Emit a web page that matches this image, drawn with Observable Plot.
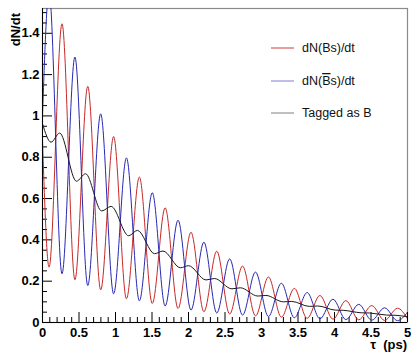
<!DOCTYPE html>
<html><head><meta charset="utf-8">
<script src="https://cdn.jsdelivr.net/npm/d3@7"></script>
<script src="https://cdn.jsdelivr.net/npm/@observablehq/plot@0.6"></script>
<style>
body{margin:0;background:#fff;}
#chart{width:412px;height:352px;}
#chart svg g[aria-label="x-axis tick label"] text,
#chart svg g[aria-label="y-axis tick label"] text{font-weight:bold;font-size:13px;}
</style></head><body><div id="chart"></div>
<script>
// Times (ps) of the read-off extrema of the oscillating curves
const extremaT = [0, 0.09, 0.267, 0.444, 0.62, 0.797, 0.974, 1.15, 1.327, 1.504, 1.68, 1.857, 2.034, 2.211, 2.387, 2.564, 2.74, 2.918, 3.095, 3.272, 3.45, 3.625, 3.80, 3.979, 4.156, 4.332, 4.51, 4.686, 4.863, 5];
// dN(Bs)/dt
const redV = [0.88, 0.268, 1.446, 0.207, 1.143, 0.158, 0.90, 0.115, 0.704, 0.092, 0.555, 0.068, 0.437, 0.052, 0.345, 0.041, 0.273, 0.032, 0.22, 0.026, 0.165, 0.020, 0.131, 0.016, 0.106, 0.013, 0.082, 0.010, 0.069, 0.018];
// dN(Bs-bar)/dt
const blueV = [1.0, 1.60, 0.236, 1.285, 0.179, 1.01, 0.139, 0.797, 0.105, 0.628, 0.080, 0.495, 0.060, 0.389, 0.046, 0.308, 0.036, 0.244, 0.029, 0.19, 0.023, 0.145, 0.018, 0.113, 0.014, 0.088, 0.011, 0.071, 0.009, 0.05];
// Tagged as B
const blackT = [0, 0.117, 0.235, 0.465, 0.59, 0.81, 0.94, 1.18, 1.30, 1.535, 1.65, 1.89, 2.00, 2.24, 2.355, 2.595, 2.71, 2.95, 3.06, 3.30, 3.415, 3.655, 3.77, 4.01, 4.12, 4.365, 4.48, 4.715, 4.83, 5];
const blackV = [0.962, 0.873, 0.917, 0.684, 0.72, 0.54, 0.562, 0.42, 0.446, 0.333, 0.346, 0.265, 0.275, 0.206, 0.213, 0.163, 0.168, 0.128, 0.131, 0.100, 0.102, 0.078, 0.080, 0.060, 0.059, 0.047, 0.046, 0.036, 0.035, 0.028];

const xMajor = [0, 0.5, 1, 1.5, 2, 2.5, 3, 3.5, 4, 4.5, 5];
const xTickLabels = ["0", "0.5", "1", "1.5", "2", "2.5", "3", "3.5", "4", "4.5", "5"];
const xMinor = [0.1,0.2,0.3,0.4,0.6,0.7,0.8,0.9,1.1,1.2,1.3,1.4,1.6,1.7,1.8,1.9,2.1,2.2,2.3,2.4,2.6,2.7,2.8,2.9,3.1,3.2,3.3,3.4,3.6,3.7,3.8,3.9,4.1,4.2,4.3,4.4,4.6,4.7,4.8,4.9];
const yMajor = [0, 0.2, 0.4, 0.6, 0.8, 1, 1.2, 1.4];
const yTickLabels = ["0", "0.2", "0.4", "0.6", "0.8", "1", "1.2", "1.4"];
const yMinor = [0.05,0.1,0.15,0.25,0.3,0.35,0.45,0.5,0.55,0.65,0.7,0.75,0.85,0.9,0.95,1.05,1.1,1.15,1.25,1.3,1.35,1.45,1.5];

const seriesNames = ["dN(Bs)/dt", "dN(Bs-bar)/dt", "Tagged as B"];
const seriesColors = ["#c82828", "#2828b4", "#1a1a1a"];

const redRows = extremaT.map((t, i) => ({t, v: redV[i]}));
const blueRows = extremaT.map((t, i) => ({t, v: blueV[i]}));
const blackRows = blackT.map((t, i) => ({t, v: blackV[i]}));

const W = 412, H = 352, mL = 42, mR = 5, mT = 8, mB = 30;
const fw = W - mL - mR, fh = H - mT - mB;

const plot = Plot.plot({
  width: W, height: H,
  marginLeft: mL, marginRight: mR, marginTop: mT, marginBottom: mB,
  x: {domain: [0, 5]},
  y: {domain: [0, 1.52]},
  style: {fontFamily: "'Liberation Sans', Arial, sans-serif", fontSize: "13px", background: "white", color: "black"},
  marks: [
    Plot.frame({stroke: "#8a8a8a", strokeWidth: 1.2}),
    Plot.tickX(xMajor, {x: d => d, insetTop: fh - 10, stroke: "black"}),
    Plot.tickX(xMinor, {x: d => d, insetTop: fh - 5, stroke: "black"}),
    Plot.tickY(yMajor, {y: d => d, insetRight: fw - 10, stroke: "black"}),
    Plot.tickY(yMinor, {y: d => d, insetRight: fw - 5, stroke: "black"}),
    Plot.line(redRows, {x: "t", y: "v", stroke: seriesColors[0], strokeWidth: 1, curve: "monotone-x", clip: true}),
    Plot.line(blueRows, {x: "t", y: "v", stroke: seriesColors[1], strokeWidth: 1, curve: "monotone-x", clip: true}),
    Plot.line(blackRows, {x: "t", y: "v", stroke: seriesColors[2], strokeWidth: 1, curve: "monotone-x", clip: true}),
    Plot.ruleX([0], {stroke: "black"}),
    Plot.ruleY([0], {stroke: "black"}),
    Plot.axisX({ticks: xMajor, tickSize: 0, tickPadding: 5, fontWeight: "bold", tickFormat: d => xTickLabels[xMajor.indexOf(d)], label: null}),
    Plot.axisY({ticks: yMajor, tickSize: 0, tickPadding: 3, fontWeight: "bold", tickFormat: d => yTickLabels[yMajor.indexOf(d)], label: null})
  ]
});
document.getElementById("chart").append(plot);

const svg = d3.select(plot);
const font = "'Liberation Sans', Arial, sans-serif";
// axis titles
svg.append("text").attr("transform", "translate(20,13) rotate(-90)")
  .attr("text-anchor", "end").attr("font-family", font).attr("font-size", 13).attr("font-weight", "bold")
  .text("dN/dt");
svg.append("text").attr("x", 407).attr("y", 349).attr("text-anchor", "end")
  .attr("font-family", font).attr("font-size", 13).attr("font-weight", "bold")
  .style("white-space", "pre").text("\u03c4  (ps)");

// legend
const legY = [48, 81, 113];
seriesNames.forEach((name, i) => {
  const g = svg.append("g");
  g.append("line").attr("x1", 271).attr("x2", 294).attr("y1", legY[i]).attr("y2", legY[i])
    .attr("stroke", seriesColors[i]).attr("stroke-width", 1).attr("opacity", i === 1 ? 0.6 : (i === 2 ? 0.55 : 0.9));
  const t = g.append("text").attr("x", 302).attr("y", legY[i] + 4).attr("text-anchor", "start")
    .attr("font-family", font).attr("font-size", 12.5).attr("font-weight", "normal").attr("fill", "#111");
  if (i === 1) {
    t.append("tspan").text("dN(");
    t.append("tspan").style("text-decoration", "overline").text("B");
    t.append("tspan").text("s)/dt");
  } else {
    t.text(name);
  }
});
</script></body></html>
